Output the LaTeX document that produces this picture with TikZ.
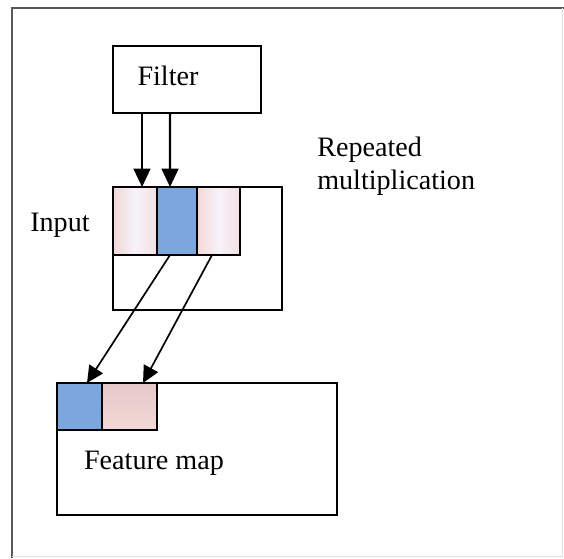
\documentclass[tikz,border=0pt]{standalone}
\usepackage{fontspec}
\setmainfont{Liberation Serif}
\usetikzlibrary{arrows.meta,positioning}

\definecolor{cellblue}{RGB}{124,166,222}
\definecolor{cellpink}{RGB}{242,216,214}
\definecolor{cellpale}{RGB}{247,242,250}
\definecolor{cellrose}{RGB}{230,200,200}

\tikzstyle{block} = [rectangle, draw, line width=1.6pt, anchor=north west, inner sep=0pt, outer sep=0pt]
\tikzstyle{cell} = [block, line width=1.3pt, minimum height=1.7cm]
\tikzstyle{pinkcell} = [cell, left color=cellpink, right color=cellpink!70!cellpale, middle color=cellpale]
\tikzstyle{bluecell} = [cell, fill=cellblue]
\tikzstyle{arrow} = [draw, line width=1.6pt, -{Triangle[length=0.46cm,width=0.42cm]}]
\tikzstyle{link} = [draw, line width=1.2pt, -{Triangle[length=0.42cm,width=0.4cm]}]
\tikzstyle{txt} = [font=\fontsize{20}{23.5}\selectfont, inner sep=0pt]

\begin{document}
\begin{tikzpicture}[x=0.025cm, y=-0.025cm]
    \useasboundingbox (0,0) rectangle (564,558);

    % frame
    \draw[gray!70!black, line width=1.5pt] (12,558) -- (12,8) -- (564,8);
    \draw[gray!25, line width=0.6pt] (562,8) -- (562,556) -- (12,556);

    % filter
    \node[block, minimum width=3.7cm, minimum height=1.675cm] (filter) at (113,46) {};
    \node[txt] (filtertxt) at (168,76) {Filter};

    % input
    \node[block, minimum width=4.225cm, minimum height=3.075cm] (input) at (113,187) {};
    \node[pinkcell, minimum width=1.1cm] (in1) at (input.north west) {};
    \node[bluecell, minimum width=1.0cm, right=0pt of in1] (in2) {};
    \node[pinkcell, minimum width=1.075cm, right=0pt of in2] (in3) {};
    \node[txt] (inputtxt) at (60,225) {Input};

    % feature map
    \node[block, minimum width=7cm, minimum height=3.3cm] (fmap) at (57,383) {};
    \node[bluecell, minimum width=1.125cm, minimum height=1.175cm] (fm1) at (fmap.north west) {};
    \node[cell, minimum width=1.375cm, minimum height=1.175cm, top color=cellrose, bottom color=cellpink, right=0pt of fm1] (fm2) {};
    \node[txt] (fmaptxt) at (154,463) {Feature map};

    \node[txt, align=left, anchor=west] (reptxt) at (317,166) {Repeated\\multiplication};

    % lines
    \draw [arrow] ([xshift=0.725cm]filter.south west) -- ([xshift=0.725cm]in1.north west);
    \draw [arrow] ([xshift=1.425cm]filter.south west) -- ([xshift=0.325cm]in2.north west);
    \draw [link] ([xshift=0.325cm]in2.south west) -- ([xshift=0.75cm]fm1.north west);
    \draw [link] ([xshift=0.375cm]in3.south west) -- ([xshift=1.025cm]fm2.north west);
\end{tikzpicture}
\end{document}
